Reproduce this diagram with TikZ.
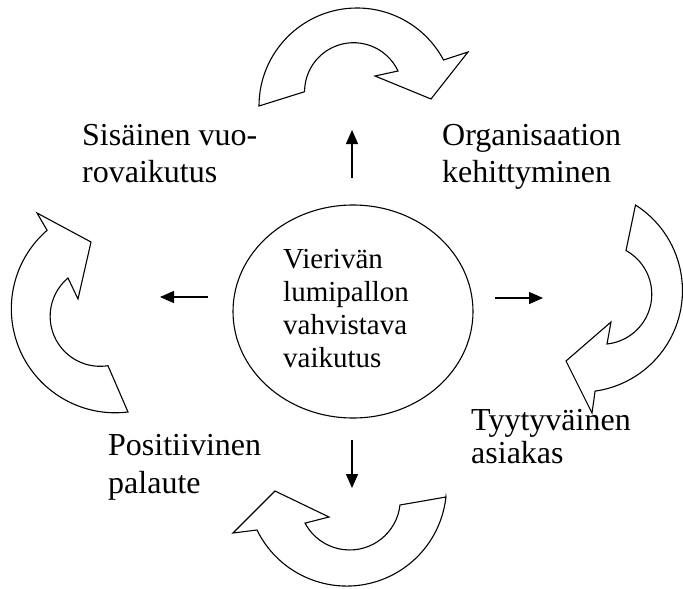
\documentclass[tikz,border=0pt]{standalone}
\usepackage{fontspec}
\setmainfont{Liberation Serif}
\usetikzlibrary{arrows.meta,shapes.geometric}
\begin{document}
\begin{tikzpicture}[x=1pt,y=-1pt,
  cyc/.style={draw=black,line width=1.1pt,line join=miter,fill=white},
  lab/.style={anchor=base west,inner sep=0pt,font=\fontsize{32}{37}\selectfont},
  inlab/.style={anchor=base west,inner sep=0pt,font=\fontsize{29}{33}\selectfont},
  pointer/.style={line width=1.4pt,-{Triangle[length=14pt,width=12pt]}}]
\useasboundingbox (0,0) rectangle (683,589);

% centre ellipse
\node[ellipse,draw,line width=1.1pt,minimum width=240pt,minimum height=213pt,inner sep=0pt] (c) at (353,311.5) {};
\node[inlab] (c1) at (283,268) {Vierivän};
\node[inlab] (c2) at (283,301) {lumipallon};
\node[inlab] (c3) at (283,334) {vahvistava};
\node[inlab] (c4) at (283,367) {vaikutus};

% labels
\node[lab] (s1) at (82,145) {Sisäinen vuo-};
\node[lab] (s2) at (82,182) {rovaikutus};
\node[lab] (o1) at (442,145) {Organisaation};
\node[lab] (o2) at (442,182) {kehittyminen};
\node[lab] (t1) at (471,430) {Tyytyväinen};
\node[lab] (t2) at (471,463) {asiakas};
\node[lab] (p1) at (108,455) {Positiivinen};
\node[lab] (p2) at (108,493) {palaute};

% straight arrows
\coordinate (ua) at (352,178); \coordinate (ub) at (352,130);
\coordinate (la) at (208,297); \coordinate (lb) at (160,297);
\coordinate (ra) at (495,298); \coordinate (rb) at (543,298);
\coordinate (da) at (352,440); \coordinate (db) at (352,488);
\draw[pointer] (ua) -- (ub);
\draw[pointer] (la) -- (lb);
\draw[pointer] (ra) -- (rb);
\draw[pointer] (da) -- (db);

% top curved arrow
\draw[cyc] (259,106) arc[start angle=180,end angle=332,radius=98]
  -- (468,52) -- (431,99) -- (375,76) -- (398,71)
  arc[start angle=335,end angle=180,radius=49] -- cycle;

% left curved arrow
\draw[cyc] (37,213) -- (91,242) -- (78,299) -- (68,278)
  arc[start angle=230,end angle=81,radius=50] -- (128,412)
  arc[start angle=83,end angle=229,radius=104] -- cycle;

% right curved arrow
\draw[cyc] (635.5,205) arc[start angle=-57.5,end angle=82,radius=101.5]
  -- (592,413) -- (566,361) -- (611,322) -- (607,344)
  arc[start angle=84,end angle=-61,radius=50] -- cycle;

% bottom curved arrow
\draw[cyc] (446,497) -- (400,505)
  arc[start angle=6.4,end angle=152,radius=50.6]
  -- (329,517) -- (275,491) -- (233,533) -- (257,530)
  arc[start angle=154,end angle=6,radius=99.8] -- cycle;
\end{tikzpicture}
\end{document}
